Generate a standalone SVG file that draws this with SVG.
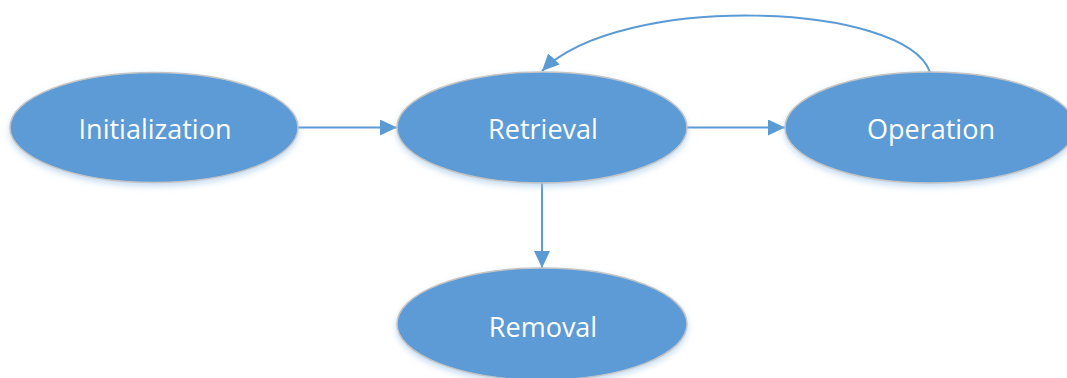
<svg xmlns="http://www.w3.org/2000/svg" width="1067" height="378" viewBox="0 0 1067 378">
  <style>
    .node ellipse { fill: #5B9BD5; stroke: #C4C4C4; stroke-width: 1.5; filter: url(#shadow); }
    .node text { fill: #FFFFFF; font-family: "Open Sans", "Liberation Sans", sans-serif; font-size: 27px; text-anchor: middle; dominant-baseline: central; }
    .edge { fill: none; stroke: #5B9BD5; stroke-width: 2; marker-end: url(#arrow); }
  </style>
  <defs>
    <marker id="arrow" markerUnits="userSpaceOnUse" markerWidth="18" markerHeight="16" refX="17" refY="8" orient="auto">
      <path d="M0,0 L17,8 L0,16 Z" fill="#5B9BD5"/>
    </marker>
    <filter id="shadow" x="-10%" y="-10%" width="120%" height="130%">
      <feGaussianBlur in="SourceAlpha" stdDeviation="3"/>
      <feOffset dx="0" dy="3" result="b"/>
      <feFlood flood-color="#9DC3E6" flood-opacity="0.6"/>
      <feComposite in2="b" operator="in"/>
      <feMerge><feMergeNode/><feMergeNode in="SourceGraphic"/></feMerge>
    </filter>
  </defs>
  <g id="connectors">
    <line class="edge" x1="298" y1="127.5" x2="397" y2="127.5"/>
    <line class="edge" x1="687" y1="127.5" x2="785" y2="127.5"/>
    <line class="edge" x1="542" y1="183" x2="542" y2="268"/>
    <path class="edge" d="M930,72 C905,2 620,-8 542,71"/>
  </g>
  <g id="initialization" class="node">
    <ellipse cx="154" cy="127.5" rx="144" ry="55"/>
    <text x="155" y="128">Initialization</text>
  </g>
  <g id="retrieval" class="node">
    <ellipse cx="542" cy="127.5" rx="145" ry="55.5"/>
    <text x="543" y="128">Retrieval</text>
  </g>
  <g id="operation" class="node">
    <ellipse cx="930" cy="127.5" rx="145" ry="55.5"/>
    <text x="931" y="128">Operation</text>
  </g>
  <g id="removal" class="node">
    <ellipse cx="542" cy="324" rx="145" ry="56"/>
    <text x="543" y="326">Removal</text>
  </g>
</svg>
